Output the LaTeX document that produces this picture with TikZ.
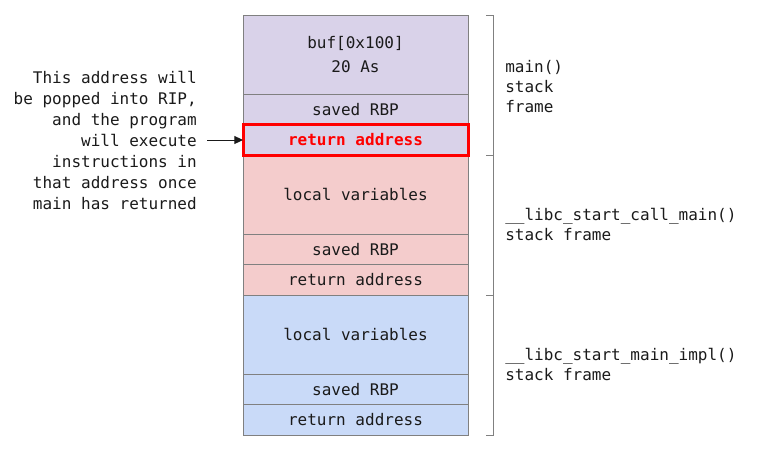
\documentclass[tikz,border=0pt]{standalone}
\usepackage{fontspec}
\setmonofont{DejaVu Sans Mono}
\usetikzlibrary{arrows.meta}
\definecolor{cpurple}{HTML}{D9D2E9}
\definecolor{cpink}{HTML}{F4CCCC}
\definecolor{cblue}{HTML}{C9DAF8}
\definecolor{cgray}{HTML}{808080}
\definecolor{cred}{HTML}{FF0000}
\definecolor{ctext}{HTML}{1A1A1A}
\tikzset{
  cell/.style={draw=cgray, line width=0.75pt, minimum width=168.75pt, inner sep=0pt, outer sep=0pt, anchor=north, font=\ttfamily\fontsize{12}{18}\selectfont, text=ctext, align=center},
  big/.style={cell, minimum height=59.25pt},
  small/.style={cell, minimum height=22.875pt},
  brk/.style={draw=cgray, line width=0.75pt},
  lbl/.style={font=\ttfamily\fontsize{12}{15}\selectfont, text=ctext, align=left, anchor=west, inner sep=0pt},
}
\begin{document}
\begin{tikzpicture}[x=0.75pt, y=-0.75pt]
\useasboundingbox (0,0) rectangle (757,451);
% main() frame
\node[big, fill=cpurple] (buf) at (355.5,15) {buf[0x100]\\20 As};
\node[small, fill=cpurple] (rbp1) at (buf.south) {saved RBP};
\node[small, fill=cpurple] (ret1) at (rbp1.south) {\textcolor{cred}{\bfseries return address}};
% __libc_start_call_main frame
\node[big, fill=cpink] (loc2) at (ret1.south) {local variables};
\node[small, fill=cpink] (rbp2) at (loc2.south) {saved RBP};
\node[small, fill=cpink] (ret2) at (rbp2.south) {return address};
% __libc_start_main_impl frame
\node[big, fill=cblue] (loc3) at (ret2.south) {local variables};
\node[small, fill=cblue] (rbp3) at (loc3.south) {saved RBP};
\node[small, fill=cblue] (ret3) at (rbp3.south) {return address};
% highlight
\draw[draw=cred, line width=2.25pt] (ret1.south west) rectangle (ret1.north east);
% brackets
\draw[brk] ([xshift=13.5pt]buf.north east) -- ([xshift=18.75pt]buf.north east) -- ([xshift=18.75pt]ret1.south east) -- ([xshift=13.5pt]ret1.south east);
\draw[brk] ([xshift=13.5pt]loc2.north east) -- ([xshift=18.75pt]loc2.north east) -- ([xshift=18.75pt]ret2.south east) -- ([xshift=13.5pt]ret2.south east);
\draw[brk] ([xshift=13.5pt]loc3.north east) -- ([xshift=18.75pt]loc3.north east) -- ([xshift=18.75pt]ret3.south east) -- ([xshift=13.5pt]ret3.south east);
% frame labels
\node[lbl] (l1) at (505,87) {main()\\stack\\frame};
\node[lbl] (l2) at (505,224) {\_\_libc\_start\_call\_main()\\stack frame};
\node[lbl] (l3) at (505,364) {\_\_libc\_start\_main\_impl()\\stack frame};
% annotation
\node[font=\ttfamily\fontsize{12}{15.75}\selectfont, text=ctext, align=right, anchor=east, inner sep=0pt] (note) at (197,140) {This address will\\be popped into RIP,\\and the program\\will execute\\instructions in\\that address once\\main has returned};
\coordinate (arrstart) at (207,140);
\draw[-{Triangle[length=6.5pt,width=6pt]}, line width=0.75pt, ctext] (arrstart) -- (arrstart -| ret1.west);
\end{tikzpicture}
\end{document}
